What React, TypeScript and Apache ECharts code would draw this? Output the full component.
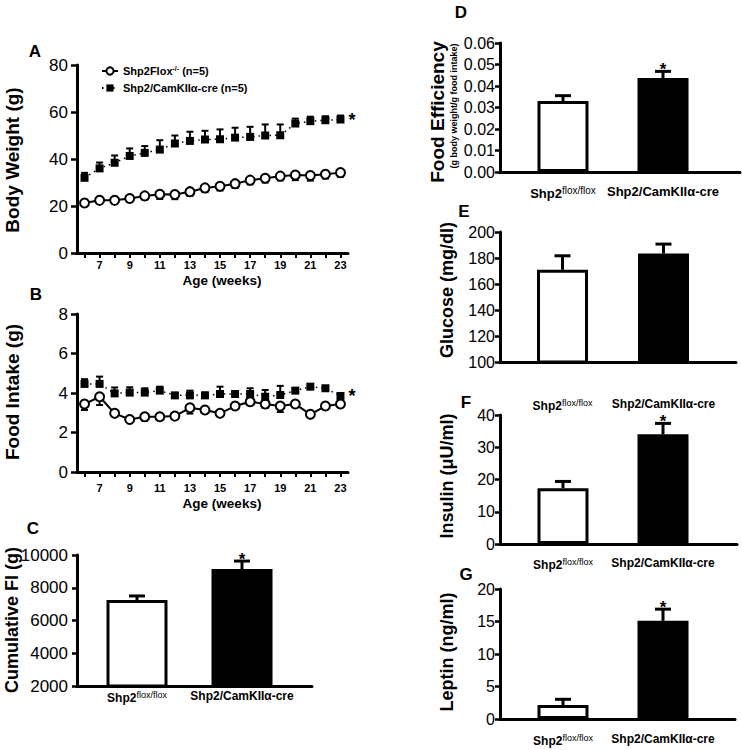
import React, { useEffect, useRef } from "react";
import * as echarts from "echarts";

const FONT = '"Liberation Sans", Arial, Helvetica, sans-serif';

// Panel A / B (weekly time courses)
const weeks = ["6", "7", "8", "9", "10", "11", "12", "13", "14", "15", "16", "17", "18", "19", "20", "21", "22", "23"];
const bwFlox = [21.3, 22.4, 22.4, 23.2, 24.3, 25.0, 24.9, 26.1, 27.7, 28.4, 29.5, 31.0, 31.8, 32.7, 33.2, 33.0, 33.5, 34.2];
const bwFloxErr = [1.2, 1.2, 1.3, 1.5, 1.5, 2.0, 2.0, 1.8, 1.8, 1.8, 1.8, 1.8, 1.8, 1.8, 2.2, 2.2, 1.8, 1.8];
const bwCre = [32.0, 36.0, 38.4, 41.3, 42.6, 44.0, 46.6, 47.7, 48.3, 48.4, 49.1, 49.4, 50.0, 50.1, 55.1, 56.1, 56.5, 56.8];
const bwCreErr = [2.1, 2.5, 3.1, 3.2, 2.9, 4.0, 3.4, 3.9, 3.7, 4.2, 4.2, 4.3, 4.7, 4.6, 2.1, 1.9, 1.7, 1.7];
const fiFlox = [3.44, 3.81, 2.97, 2.66, 2.8, 2.8, 2.83, 3.25, 3.14, 2.97, 3.34, 3.56, 3.44, 3.34, 3.44, 2.92, 3.34, 3.44];
const fiFloxErr = [0.3, 0.42, 0.15, 0.12, 0.2, 0.12, 0.12, 0.29, 0.15, 0.15, 0.12, 0.15, 0.2, 0.3, 0.15, 0.1, 0.15, 0.15];
const fiCre = [4.46, 4.46, 3.98, 4.02, 4.02, 4.12, 3.88, 3.88, 3.88, 3.95, 3.95, 3.95, 3.81, 3.9, 4.12, 4.32, 4.24, 3.85];
const fiCreErr = [0.24, 0.37, 0.3, 0.27, 0.22, 0.2, 0.1, 0.24, 0.14, 0.37, 0.12, 0.29, 0.34, 0.46, 0.12, 0.08, 0.08, 0.14];

const seriesNames = ["Shp2Flox-/- (n=5)", "Shp2/CamKIIα-cre (n=5)"];

// Bar panels C-G
const groups = ["Shp2flox/flox", "Shp2/CamKIIα-cre"];
const cumFI = [7250, 9140];
const cumFIErr = [250, 490];
const cumFISig = [false, true];
const foodEff = [0.033, 0.0437];
const foodEffErr = [0.0025, 0.0031];
const foodEffSig = [false, true];
const glucose = [170.9, 183.5];
const glucoseErr = [10.8, 7.2];
const glucoseSig = [false, false];
const insulin = [17.3, 34.0];
const insulinErr = [2.1, 3.4];
const insulinSig = [false, true];
const leptin = [2.16, 15.1];
const leptinErr = [0.87, 1.8];
const leptinSig = [false, true];

function errRender(dir: number, capW: number, lw: number, star: boolean[] | null, starFont: string) {
  return (params: any, api: any) => {
    const i = api.value(0);
    const m = api.value(1);
    const e = api.value(2);
    const p0 = api.coord([i, m]);
    const p1 = api.coord([i, m + dir * e]);
    const children: any[] = [
      { type: "line", shape: { x1: p0[0], y1: p0[1], x2: p1[0], y2: p1[1] }, style: { stroke: "#000", lineWidth: lw } },
      { type: "line", shape: { x1: p1[0] - capW / 2, y1: p1[1], x2: p1[0] + capW / 2, y2: p1[1] }, style: { stroke: "#000", lineWidth: lw } },
    ];
    if (star && star[params.dataIndex]) {
      children.push({
        type: "text",
        x: p1[0],
        y: p1[1] - 2,
        style: {
          text: "*",
          fill: "#000",
          font: starFont,
          lineHeight: 10,
          align: "center",
          verticalAlign: "middle",
          textAlign: "center",
          textVerticalAlign: "middle",
        },
      });
    }
    return { type: "group", children };
  };
}

const axisLineStyle = { show: true, onZero: false, lineStyle: { color: "#000", width: 3 } };

export default function App() {
  const ref = useRef<HTMLDivElement>(null);
  useEffect(() => {
    if (!ref.current) return;
    const chart = echarts.init(ref.current, null, { renderer: "svg" });

    const grids: any[] = [
      { left: 77, top: 65, width: 271, height: 188 }, // 0 A
      { left: 77, top: 314, width: 271, height: 158 }, // 1 B
    ];
    const xAxes: any[] = [];
    const yAxes: any[] = [];
    const series: any[] = [];

    // Time course panels
    const tcPanels = [
      { gi: 0, flox: bwFlox, floxErr: bwFloxErr, cre: bwCre, creErr: bwCreErr, max: 80, interval: 20, labelMargin: 6 },
      { gi: 1, flox: fiFlox, floxErr: fiFloxErr, cre: fiCre, creErr: fiCreErr, max: 8, interval: 2, labelMargin: 10 },
    ];
    tcPanels.forEach((p) => {
      const xi = xAxes.length;
      xAxes.push({
        gridIndex: p.gi,
        type: "category",
        data: weeks,
        boundaryGap: true,
        axisLine: axisLineStyle,
        axisTick: { show: true, alignWithLabel: true, interval: 0, length: 5, lineStyle: { color: "#000", width: 2 } },
        axisLabel: {
          interval: (idx: number) => idx % 2 === 1,
          margin: p.labelMargin,
          color: "#000",
          fontFamily: FONT,
          fontWeight: "bold",
          fontSize: 11,
        },
        splitLine: { show: false },
      });
      const yi = yAxes.length;
      yAxes.push({
        gridIndex: p.gi,
        type: "value",
        min: 0,
        max: p.max,
        interval: p.interval,
        axisLine: axisLineStyle,
        axisTick: { show: true, length: 6, lineStyle: { color: "#000", width: 2.5 } },
        axisLabel: { color: "#000", fontFamily: FONT, fontSize: 17, margin: 9 },
        splitLine: { show: false },
      });
      const last = weeks.length - 1;
      series.push({
        type: "custom",
        xAxisIndex: xi,
        yAxisIndex: yi,
        z: 1,
        renderItem: errRender(-1, 7, 2, null, ""),
        data: p.flox.map((v, i) => [i, v, p.floxErr[i]]),
      });
      series.push({
        type: "custom",
        xAxisIndex: xi,
        yAxisIndex: yi,
        z: 1,
        renderItem: errRender(1, 7, 2, null, ""),
        data: p.cre.map((v, i) => [i, v, p.creErr[i]]),
      });
      series.push({
        name: seriesNames[0],
        type: "line",
        xAxisIndex: xi,
        yAxisIndex: yi,
        z: 3,
        data: p.flox,
        symbol: "circle",
        symbolSize: 9,
        itemStyle: { color: "#fff", borderColor: "#000", borderWidth: 2 },
        lineStyle: { color: "#000", width: 2 },
      });
      series.push({
        name: seriesNames[1],
        type: "line",
        xAxisIndex: xi,
        yAxisIndex: yi,
        z: 3,
        data: p.cre,
        symbol: "rect",
        symbolSize: 8,
        itemStyle: { color: "#000" },
        lineStyle: { color: "#000", width: 1.5, type: [1.5, 4] },
        label: {
          show: true,
          position: "right",
          distance: 4,
          formatter: (q: any) => (q.dataIndex === last ? "*" : ""),
          color: "#000",
          fontFamily: FONT,
          fontWeight: "bold",
          fontSize: 18,
        },
      });
    });

    // Bar panels
    const barPanels = [
      { frame: { left: 77, top: 555, width: 235, height: 131 }, bars: { left: 84.5, width: 210 }, min: 2000, max: 10000, interval: 2000, vals: cumFI, errs: cumFIErr, sig: cumFISig, margin: 4, lblFont: 12, tickFont: 17, tickMargin: 9, fmt: (v: number) => String(v), barW: 61 },
      { frame: { left: 500, top: 43, width: 240, height: 129 }, bars: { left: 513, width: 200 }, min: 0, max: 0.06, interval: 0.01, vals: foodEff, errs: foodEffErr, sig: foodEffSig, margin: 13, lblFont: 13, tickFont: 16, tickMargin: 5, fmt: (v: number) => v.toFixed(2), barW: 51 },
      { frame: { left: 500, top: 232, width: 236, height: 130 }, bars: { left: 512, width: 202 }, min: 100, max: 200, interval: 20, vals: glucose, errs: glucoseErr, sig: glucoseSig, margin: 36, lblFont: 12, tickFont: 16, tickMargin: 5, fmt: (v: number) => String(v), barW: 51 },
      { frame: { left: 500, top: 415, width: 237, height: 129 }, bars: { left: 513, width: 200 }, min: 0, max: 40, interval: 10, vals: insulin, errs: insulinErr, sig: insulinSig, margin: 13, lblFont: 12, tickFont: 16, tickMargin: 5, fmt: (v: number) => String(v), barW: 51 },
      { frame: { left: 500, top: 589, width: 235, height: 130 }, bars: { left: 513, width: 200 }, min: 0, max: 20, interval: 5, vals: leptin, errs: leptinErr, sig: leptinSig, margin: 14, lblFont: 12, tickFont: 16, tickMargin: 5, fmt: (v: number) => String(v), barW: 51 },
    ];
    barPanels.forEach((p) => {
      const gFrame = grids.length;
      grids.push({ ...p.frame });
      const gBars = grids.length;
      grids.push({ left: p.bars.left, width: p.bars.width, top: p.frame.top, height: p.frame.height });
      // frame axes
      xAxes.push({
        gridIndex: gFrame,
        type: "value",
        min: 0,
        max: 1,
        axisLine: axisLineStyle,
        axisTick: { show: false },
        axisLabel: { show: false },
        splitLine: { show: false },
      });
      yAxes.push({
        gridIndex: gFrame,
        type: "value",
        min: p.min,
        max: p.max,
        interval: p.interval,
        axisLine: axisLineStyle,
        axisTick: { show: true, length: 5, lineStyle: { color: "#000", width: 2.5 } },
        axisLabel: { color: "#000", fontFamily: FONT, fontSize: p.tickFont, margin: p.tickMargin, formatter: p.fmt },
        splitLine: { show: false },
      });
      // bar axes
      const xi = xAxes.length;
      xAxes.push({
        gridIndex: gBars,
        type: "category",
        data: groups,
        axisLine: { show: false },
        axisTick: { show: false },
        axisLabel: {
          margin: p.margin,
          interval: 0,
          color: "#000",
          formatter: (v: string) => (v === groups[0] ? "{b|Shp2}{s|flox/flox}" : "{b|" + v + "}"),
          rich: {
            b: { fontFamily: FONT, fontWeight: "bold", fontSize: p.lblFont, color: "#000" },
            s: { fontFamily: FONT, fontSize: p.lblFont - 3, color: "#000", padding: [0, 0, 6, 0] },
          },
        },
        splitLine: { show: false },
      });
      const yi = yAxes.length;
      yAxes.push({ gridIndex: gBars, type: "value", min: p.min, max: p.max, show: false, splitLine: { show: false } });
      series.push({
        type: "bar",
        xAxisIndex: xi,
        yAxisIndex: yi,
        barWidth: p.barW,
        z: 2,
        data: p.vals.map((v, i) => ({
          value: v,
          itemStyle: i === 0 ? { color: "#fff", borderColor: "#000", borderWidth: 3 } : { color: "#000", borderColor: "#000", borderWidth: 3 },
        })),
      });
      series.push({
        type: "custom",
        xAxisIndex: xi,
        yAxisIndex: yi,
        z: 3,
        renderItem: errRender(1, 16, 3, p.sig, "bold 17px " + FONT),
        data: p.vals.map((v, i) => [i, v, p.errs[i]]),
      });
    });

    const txt = (text: string, x: number, y: number, font: string, rot = 0) => ({
      type: "text",
      x,
      y,
      rotation: rot,
      style: { text, font, fill: "#000", textAlign: "center", textVerticalAlign: "middle", align: "center", verticalAlign: "middle" },
    });
    const R = Math.PI / 2;
    const graphic = [
      txt("A", 35, 51, "bold 17px " + FONT),
      txt("B", 36, 294, "bold 17px " + FONT),
      txt("C", 33, 528, "bold 17px " + FONT),
      txt("D", 461, 12, "bold 17px " + FONT),
      txt("E", 464, 211, "bold 17px " + FONT),
      txt("F", 466, 402, "bold 17px " + FONT),
      txt("G", 466, 574, "bold 17px " + FONT),
      txt("Body Weight (g)", 12, 160, "bold 19px " + FONT, R),
      txt("Food Intake (g)", 12, 392, "bold 19px " + FONT, R),
      txt("Cumulative FI (g)", 12, 620, "bold 18px " + FONT, R),
      txt("Food Efficiency", 437, 112, "bold 19px " + FONT, R),
      txt("(g body weight/g food intake)", 454, 106, "bold 9px " + FONT, R),
      txt("Glucose (mg/dl)", 447, 290, "bold 18px " + FONT, R),
      txt("Insulin (μU/ml)", 447, 476, "bold 18px " + FONT, R),
      txt("Leptin (ng/ml)", 447, 652, "bold 18px " + FONT, R),
      txt("Age (weeks)", 222, 280, "bold 13.5px " + FONT),
      txt("Age (weeks)", 222, 503, "bold 13.5px " + FONT),
    ];

    chart.setOption({
      animation: false,
      backgroundColor: "#fff",
      grid: grids,
      xAxis: xAxes,
      yAxis: yAxes,
      series,
      graphic,
      legend: {
        data: seriesNames,
        orient: "vertical",
        left: 96,
        top: 60,
        itemWidth: 16,
        itemHeight: 9,
        itemGap: 6,
        selectedMode: false,
        formatter: (name: string) => (name === seriesNames[0] ? "Shp2Flox{s|-/-} (n=5)" : name),
        textStyle: {
          fontFamily: FONT,
          fontWeight: "bold",
          fontSize: 11,
          color: "#000",
          rich: { s: { fontFamily: FONT, fontSize: 7, color: "#000", padding: [0, 0, 5, 0] } },
        },
      },
    });
    return () => chart.dispose();
  }, []);
  return <div ref={ref} style={{ position: "absolute", left: 0, top: 0, width: 742, height: 750, background: "#fff" }} />;
}
